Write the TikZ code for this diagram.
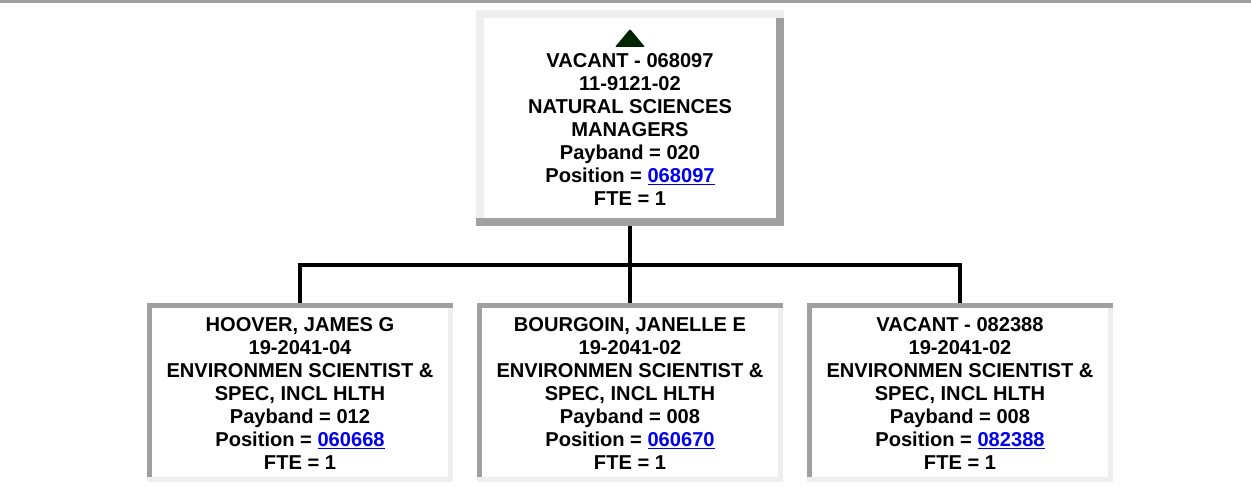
\documentclass[tikz,border=0pt]{standalone}
\usepackage{fontspec}
\setmainfont{Liberation Sans}
\definecolor{lightbd}{HTML}{EEEEEE}
\definecolor{darkbd}{HTML}{A0A0A0}
\definecolor{linkblue}{RGB}{0,0,238}
\definecolor{arrowgreen}{RGB}{0,36,0}
\newcommand{\poslink}[1]{\textcolor{linkblue}{\underline{#1}}}
\begin{document}
\begin{tikzpicture}[x=1pt,y=-1pt,
  txt/.style={align=center, inner sep=0pt, font=\fontsize{20.1}{23}\selectfont\bfseries},
  boxshape/.style={rectangle, inner sep=0pt, fill=white},
  conn/.style={line width=4pt},
]
\useasboundingbox (0,0) rectangle (1251,487);
\fill[white] (0,0) rectangle (1251,487);
% top rule
\fill[darkbd] (0,0) rectangle (1251,3);

% ---- top box (outset border, 8px) ----
\node[boxshape, minimum width=308pt, minimum height=216pt] (top) at (630,118) {};
\fill[lightbd] (top.north west) rectangle ([yshift=-8pt]top.north east);
\fill[lightbd] ([yshift=-8pt]top.north west) rectangle ([xshift=8pt,yshift=8pt]top.south west);
\fill[darkbd] ([xshift=-8pt,yshift=-8pt]top.north east) rectangle ([yshift=8pt]top.south east);
\fill[darkbd] ([yshift=8pt]top.south west) rectangle (top.south east);
\fill[arrowgreen, rounded corners=1pt] (630,29) -- (645,47) -- (615,47) -- cycle;
\node[txt] (toptxt) at (630,129.5) {VACANT - 068097\\11-9121-02\\NATURAL SCIENCES\\MANAGERS\\Payband = 020\\Position = \poslink{068097}\\FTE = 1};

% ---- bottom boxes (inset border, 5px) ----
\foreach \nm/\cx in {b1/300, b2/630, b3/960}{
  \node[boxshape, minimum width=305pt, minimum height=179pt] (\nm) at (\cx,392.5) {};
  \fill[darkbd] (\nm.north west) rectangle ([yshift=-5pt]\nm.north east);
  \fill[darkbd] ([yshift=-5pt]\nm.north west) rectangle ([xshift=5pt,yshift=5pt]\nm.south west);
  \fill[lightbd] ([xshift=-5pt,yshift=-5pt]\nm.north east) rectangle ([yshift=5pt]\nm.south east);
  \fill[lightbd] ([yshift=5pt]\nm.south west) rectangle (\nm.south east);
}
\node[txt] (t1) at (300,393.5) {HOOVER, JAMES G\\19-2041-04\\ENVIRONMEN SCIENTIST \&\\SPEC, INCL HLTH\\Payband = 012\\Position = \poslink{060668}\\FTE = 1};
\node[txt] (t2) at (630,393.5) {BOURGOIN, JANELLE E\\19-2041-02\\ENVIRONMEN SCIENTIST \&\\SPEC, INCL HLTH\\Payband = 008\\Position = \poslink{060670}\\FTE = 1};
\node[txt] (t3) at (960,393.5) {VACANT - 082388\\19-2041-02\\ENVIRONMEN SCIENTIST \&\\SPEC, INCL HLTH\\Payband = 008\\Position = \poslink{082388}\\FTE = 1};

% ---- connectors ----
\coordinate (bus) at (630,265);
\draw[conn] (top.south) -- (bus);
\draw[conn] ([xshift=-2pt]b1.north |- bus) -- ([xshift=2pt]b3.north |- bus);
\draw[conn] (b1.north |- bus) -- (b1.north);
\draw[conn] (bus) -- (b2.north);
\draw[conn] (b3.north |- bus) -- (b3.north);
\end{tikzpicture}
\end{document}
